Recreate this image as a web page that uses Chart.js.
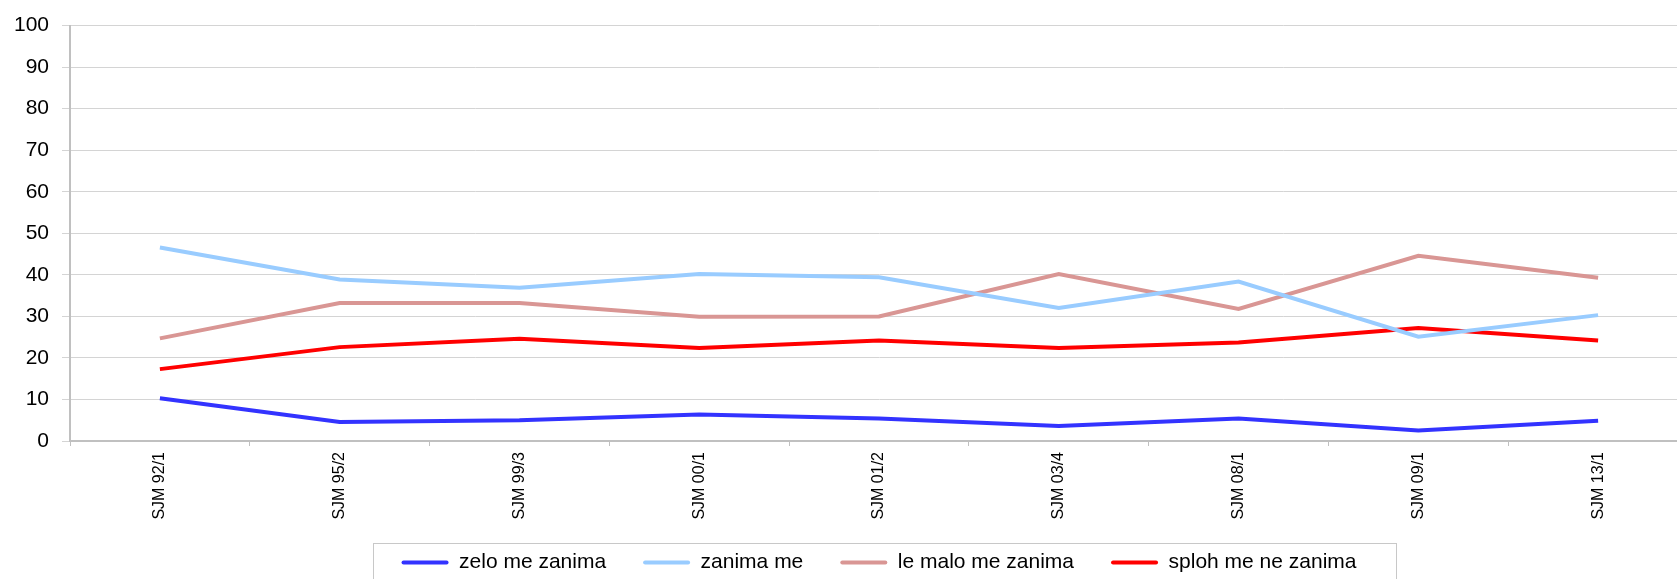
<!DOCTYPE html>
<html>
<head>
<meta charset="utf-8">
<script src="https://cdn.jsdelivr.net/npm/chart.js@4"></script>
<style>
  html, body { margin: 0; padding: 0; background: #fff; overflow: hidden; }
  #wrap { width: 1688px; height: 579px; }
</style>
</head>
<body>
<div id="wrap"><canvas id="c" width="1688" height="579"></canvas></div>
<script>
const categories = ['SJM 92/1','SJM 95/2','SJM 99/3','SJM 00/1','SJM 01/2','SJM 03/4','SJM 08/1','SJM 09/1','SJM 13/1'];
const zeloMeZanima   = [10.3, 4.6, 5.0, 6.4, 5.4, 3.6, 5.4, 2.5, 4.9];
const zanimaMe       = [46.6, 38.9, 36.9, 40.2, 39.4, 32.0, 38.4, 25.1, 30.3];
const leMaloMeZanima = [24.7, 33.2, 33.2, 29.9, 30.0, 40.2, 31.8, 44.6, 39.3];
const splohMeNeZanima= [17.3, 22.6, 24.6, 22.4, 24.2, 22.4, 23.7, 27.2, 24.2];
const seriesNames = ['zelo me zanima', 'zanima me', 'le malo me zanima', 'sploh me ne zanima'];
const yTicks = [0, 10, 20, 30, 40, 50, 60, 70, 80, 90, 100];

const colors = ['#3333ff', '#99ccff', '#d99694', '#ff0000'];
const seriesData = [zeloMeZanima, zanimaMe, leMaloMeZanima, splohMeNeZanima];

const LEGEND_H = 48;
const XAXIS_H = 90;
const LEGEND_SHIFT = 16;

const legendFit = {
  id: 'legendFit',
  beforeLayout(chart) {
    const lg = chart.legend;
    if (lg && !lg._patched) {
      const orig = lg.fit;
      lg.fit = function () { orig.call(this); this.height = LEGEND_H; };
      lg._patched = true;
    }
  },
  afterLayout(chart) {
    const lg = chart.legend;
    if (lg) { lg.top -= LEGEND_SHIFT; lg.height += LEGEND_SHIFT; }
  },
  afterDraw(chart) {
    const lg = chart.legend;
    if (!lg || !lg.legendHitBoxes || !lg.legendHitBoxes.length) return;
    const hb = lg.legendHitBoxes;
    const first = hb[0], last = hb[hb.length - 1];
    const ctx = chart.ctx;
    ctx.save();
    ctx.strokeStyle = '#c8c8c8';
    ctx.lineWidth = 1;
    const l = Math.round(first.left - 29) + 0.5;
    const r = Math.round(last.left + last.width + 40) + 0.5;
    const t = Math.round(first.top - 9) + 0.5;
    ctx.strokeRect(l, t, r - l, chart.height + 20 - t);
    ctx.restore();
  }
};

new Chart(document.getElementById('c'), {
  type: 'line',
  data: {
    labels: categories,
    datasets: seriesNames.map((name, i) => ({
      label: name,
      data: seriesData[i],
      borderColor: colors[i],
      backgroundColor: colors[i],
      borderWidth: 4,
      pointRadius: 0,
      tension: 0,
      fill: false
    }))
  },
  options: {
    responsive: false,
    animation: false,
    devicePixelRatio: 1,
    layout: { padding: { top: 21, right: 0, left: 0, bottom: 0 } },
    plugins: {
      tooltip: { enabled: false },
      legend: {
        position: 'bottom',
        fullSize: false,
        labels: {
          boxWidth: 47,
          boxHeight: 4,
          padding: 37,
          color: '#000',
          font: { family: 'Liberation Sans', size: 21 },
          generateLabels(chart) {
            const items = Chart.defaults.plugins.legend.labels.generateLabels(chart);
            items.forEach(it => { it.lineWidth = 0; it.fillStyle = it.strokeStyle; it.borderRadius = 2; });
            return items;
          }
        }
      }
    },
    scales: {
      x: {
        offset: true,
        afterFit(scale) { scale.height = XAXIS_H; },
        grid: { offset: true, drawOnChartArea: false, drawTicks: true, tickLength: 5, color: '#c0c0c0' },
        border: { color: '#c0c0c0', width: 2 },
        ticks: {
          autoSkip: false,
          minRotation: 90,
          maxRotation: 90,
          padding: 6,
          color: '#000',
          font: { family: 'Liberation Sans', size: 16 }
        }
      },
      y: {
        min: 0,
        max: 100,
        afterFit(scale) { scale.width = 70; },
        afterBuildTicks(scale) { scale.ticks = yTicks.map(v => ({ value: v })); },
        grid: { color: '#d4d4d4', lineWidth: 1, drawTicks: true, tickLength: 8 },
        border: { color: '#c0c0c0', width: 2 },
        ticks: {
          padding: 13,
          color: '#000',
          font: { family: 'Liberation Sans', size: 21 }
        }
      }
    }
  },
  plugins: [legendFit]
});
</script>
</body>
</html>
